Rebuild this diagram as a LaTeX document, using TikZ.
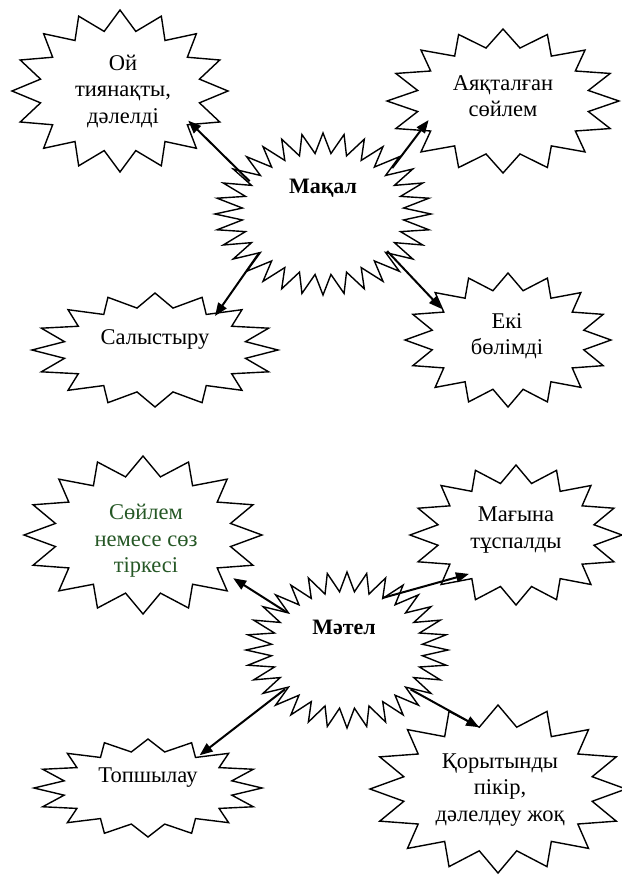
\documentclass[tikz,border=0pt]{standalone}
\usepackage{fontspec}
\setmainfont{Liberation Serif}
\usetikzlibrary{shapes.geometric,arrows.meta}
\definecolor{lblgreen}{RGB}{38,88,38}
\tikzset{
  sealline/.style={draw=black, fill=white, line width=1.4pt, line join=miter},
  innerell/.style={ellipse, inner sep=0pt, outer sep=0pt},
  lbl/.style={font=\fontsize{22.5}{26.5}\selectfont, align=center, inner sep=0pt},
  hub/.style={font=\fontsize{22}{26}\selectfont\bfseries, align=center, inner sep=0pt},
  conn/.style={-{Triangle[length=13pt,width=10pt]}, line width=2pt}
}
% #1 name, #2 cx, #3 cy, #4 rx, #5 ry, #6 = 2 x number of points
\newcommand{\sealstar}[6]{%
  \draw[sealline] plot[samples at={0,...,#6}]
    ({#2+#4*(1-0.25*mod(\x,2))*cos(90+\x*(360/#6))},
     {#3+#5*(1-0.25*mod(\x,2))*sin(90+\x*(360/#6))}) -- cycle;
  \node[innerell, minimum width={1.5*#4pt}, minimum height={1.5*#5pt}] (#1) at (#2,#3) {};
}
\begin{document}
\begin{tikzpicture}[x=1pt,y=-1pt]
\fill[white] (0,0) rectangle (621,875);
\useasboundingbox (0,0) rectangle (621,875);

\sealstar{oi}{120}{91}{108}{81}{32}
\sealstar{ayak}{503}{101}{116}{72}{32}
\sealstar{salys}{155}{350}{123}{57}{32}
\sealstar{eki}{508}{340}{103}{67}{32}
\sealstar{makal}{323}{214}{108}{81}{64}

\sealstar{soilem}{143}{535}{119}{79}{32}
\sealstar{magyna}{516}{535}{106}{70}{32}
\sealstar{topsh}{148}{788}{114}{49}{32}
\sealstar{qoryt}{498}{789}{128}{84}{32}
\sealstar{matel}{347}{650}{101}{78}{64}

\node[lbl] (oi-t) at (123,91) {Ой\\тиянақты,\\дәлелді};
\node[lbl] (ayak-t) at (503,96) {Аяқталған\\сөйлем};
\node[hub] (makal-t) at (323,188) {Мақал};
\node[lbl] (salys-t) at (155,339) {Салыстыру};
\node[lbl] (eki-t) at (507,336) {Екі\\бөлімді};
\node[lbl, text=lblgreen] (soilem-t) at (146,541) {Сөйлем\\немесе сөз\\тіркесі};
\node[lbl] (magyna-t) at (516,530) {Мағына\\тұспалды};
\node[hub] (matel-t) at (344,627) {Мәтел};
\node[lbl] (topsh-t) at (148,778) {Топшылау};
\node[lbl] (qoryt-t) at (500,790) {Қорытынды\\пікір,\\дәлелдеу жоқ};

\draw[conn, shorten <=4pt, shorten >=-2pt] (makal.157.5) -- (oi.-24.8);
\draw[conn, shorten <=10pt, shorten >=-6pt] (makal.31.4) -- (ayak.-163);
\draw[conn, shorten <=1pt, shorten >=1.5pt] (makal.-149.7) -- (salys.29.1);
\draw[conn, shorten >=3.7pt] (makal.-30.7) -- (eki.156.9);
\draw[conn, shorten <=1.7pt, shorten >=19pt] (matel.148.8) -- (soilem.-24.3);
\draw[conn, shorten <=1pt, shorten >=-4.4pt] (matel.56.6) -- (magyna.-142.4);
\draw[conn, shorten <=3.9pt, shorten >=4pt] (matel.-148.9) -- (topsh.32.4);
\draw[conn, shorten <=5.3pt] (matel.-32.4) -- (qoryt.107.9);
\end{tikzpicture}
\end{document}
